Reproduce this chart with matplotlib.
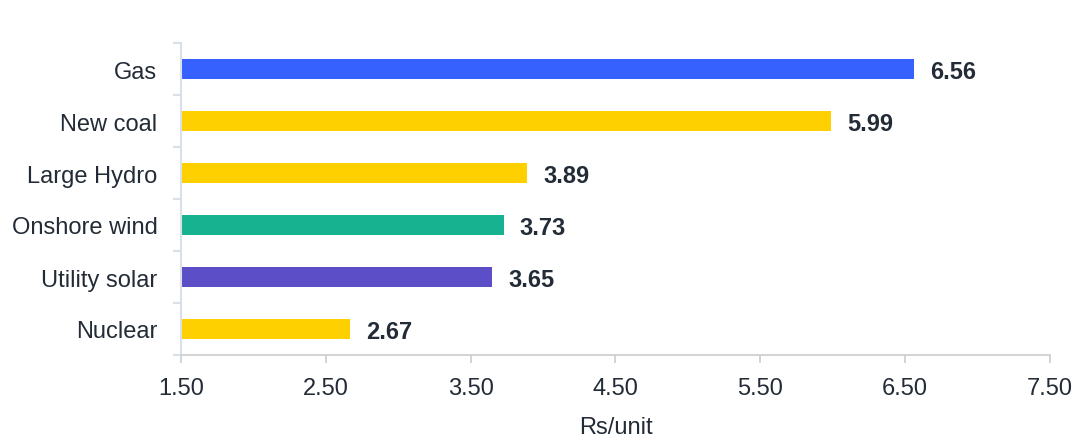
import matplotlib
matplotlib.use("Agg")
import matplotlib.pyplot as plt

categories = ["Gas", "New coal", "Large Hydro", "Onshore wind", "Utility solar", "Nuclear"]
values = [6.56, 5.99, 3.89, 3.73, 3.65, 2.67]
colors = ["#3761FF", "#FFD000", "#FFD000", "#17B290", "#5B4EC6", "#FFD000"]
xticks = [1.5, 2.5, 3.5, 4.5, 5.5, 6.5, 7.5]
xlabel = "Rs/unit"
base = 1.5

plt.rcParams['font.family'] = ['Liberation Sans', 'DejaVu Sans']
fig = plt.figure(figsize=(10.77, 4.39), dpi=100)
ax = fig.add_axes([181/1077, 83/439, (1050-181)/1077, (356-44)/439])

ypos = list(range(len(categories)))[::-1]
ax.barh(ypos, [v - base for v in values], left=base, height=0.4, color=colors)
for y, v in zip(ypos, values):
    ax.text(v + 0.11, y - 0.05, f"{v:.2f}", va="center", ha="left", fontsize=17,
            fontweight="bold", color="#222b36")

ax.set_xlim(1.5, 7.5)
ax.set_ylim(-0.5, len(categories) - 0.5)
ax.set_yticks(ypos)
ax.set_yticklabels(categories)
ax.set_yticks([i - 0.5 for i in range(len(categories) + 1)], minor=True)
ax.tick_params(axis="y", which="major", length=0, pad=17, labelsize=17, labelcolor="#222b36")
ax.tick_params(axis="y", which="minor", length=6, color="#d8e0ea", width=1.5)
ax.set_xticks(xticks)
ax.set_xticklabels([f"{t:.2f}" for t in xticks])
ax.tick_params(axis="x", length=6, color="#cccccc", width=1.2, labelsize=17, labelcolor="#222b36", pad=10)
ax.set_xlabel(xlabel, fontsize=17, color="#222b36", labelpad=12)

for s in ["top", "right"]:
    ax.spines[s].set_visible(False)
ax.spines["left"].set_color("#d8e0ea")
ax.spines["left"].set_linewidth(1.5)
ax.spines["bottom"].set_color("#cccccc")
ax.spines["bottom"].set_linewidth(1.2)

fig.savefig("out.png", dpi=100)
